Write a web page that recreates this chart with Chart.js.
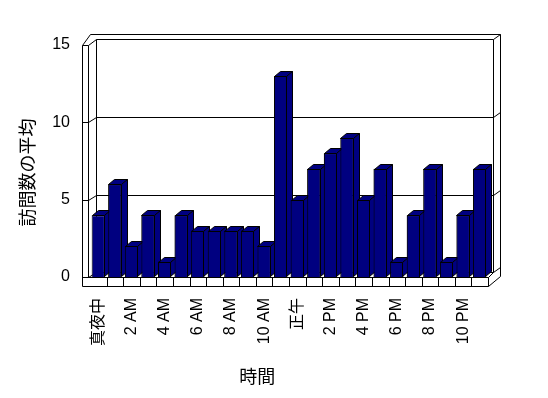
<!DOCTYPE html>
<html>
<head>
<meta charset="utf-8">
<script src="https://cdn.jsdelivr.net/npm/chart.js@4/dist/chart.umd.min.js"></script>
<style>
html,body{margin:0;padding:0;background:#fff;}
canvas{display:block;}
</style>
</head>
<body>
<canvas id="c" width="548" height="398"></canvas>
<script>
const categories = ['真夜中','1 AM','2 AM','3 AM','4 AM','5 AM','6 AM','7 AM','8 AM','9 AM','10 AM','11 AM',
  '正午','1 PM','2 PM','3 PM','4 PM','5 PM','6 PM','7 PM','8 PM','9 PM','10 PM','11 PM'];
const visits = [4,6,2,4,1,4,3,3,3,3,2,13,5,7,8,9,5,7,1,4,7,1,4,7];
const yTicks = [0,5,10,15];
const xTitle = '時間';
const yTitle = '訪問数の平均';

const FAMILY = '"Liberation Sans", Arial, "Noto Sans CJK JP", sans-serif';
const NAVY = '#000080';

function line(ctx, x1, y1, x2, y2) {
  ctx.beginPath();
  ctx.moveTo(x1, y1);
  ctx.lineTo(x2, y2);
  ctx.stroke();
}

const walls = {
  id: 'walls',
  beforeDatasetsDraw(chart) {
    const ctx = chart.ctx;
    const xs = chart.scales.x, ys = chart.scales.y;
    const L = Math.round(xs.left), R = Math.round(xs.right);
    const T = Math.round(ys.getPixelForValue(15)), B = Math.round(ys.getPixelForValue(0));
    ctx.save();
    ctx.translate(0.5, 0.5);
    ctx.strokeStyle = '#000';
    ctx.lineWidth = 1;
    // left wall
    line(ctx, L-8, T, L-8, B+9);
    line(ctx, L-2, T, L-2, B);
    line(ctx, L-8, T, L-2, T);
    line(ctx, L-8, T, L, T-11);
    line(ctx, L-2, T, L+6, T-6);
    line(ctx, L+6, T-6, L+6, B-5);
    // back wall
    line(ctx, L, T-11, R+12, T-11);
    line(ctx, L+6, T-6, R+5, T-6);
    line(ctx, R+12, T-11, R+12, B-1);
    line(ctx, R+5, T-6, R+5, B-5);
    line(ctx, R+5, T-6, R+12, T-11);
    // gridlines
    yTicks.forEach(v => {
      if (v === 15) return;
      const y = Math.round(ys.getPixelForValue(v));
      line(ctx, L-8, y, L-2, y);
      line(ctx, L-2, y, L+6, y-5);
      line(ctx, L+6, y-5, R+5, y-5);
      line(ctx, R+5, y-5, R+12, y-10);
    });
    // floor
    line(ctx, L-8, B, R, B);
    line(ctx, L-8, B+9, R, B+9);
    line(ctx, R, B, R, B+9);
    for (let i = 1; i < categories.length; i++) {
      const x = Math.round((xs.getPixelForValue(i-1) + xs.getPixelForValue(i)) / 2);
      line(ctx, x, B, x, B+9);
    }
    line(ctx, R, B+9, R+12, B-1);
    line(ctx, R, B, R+5, B-5);
    ctx.restore();
  },
  afterDatasetsDraw(chart) {
    const ctx = chart.ctx;
    const meta = chart.getDatasetMeta(0);
    const dx = 6, dy = -5;
    ctx.save();
    ctx.strokeStyle = '#000';
    ctx.lineWidth = 1;
    ctx.fillStyle = NAVY;
    meta.data.forEach((bar, i) => {
      const p = bar.getProps(['x','y','base','width'], true);
      const l = Math.round(p.x - p.width/2) + 0.5;
      const r = Math.round(p.x + p.width/2) - 0.5;
      const t = Math.round(p.y) + 0.5;
      const b = Math.round(p.base) - 0.5;
      // top face
      ctx.beginPath();
      ctx.moveTo(l, t); ctx.lineTo(l+dx, t+dy); ctx.lineTo(r+dx, t+dy); ctx.lineTo(r, t); ctx.closePath();
      ctx.fill(); ctx.stroke();
      // side face
      ctx.beginPath();
      ctx.moveTo(r, t); ctx.lineTo(r+dx, t+dy); ctx.lineTo(r+dx, b+dy); ctx.lineTo(r, b); ctx.closePath();
      ctx.fill(); ctx.stroke();
      if (i + 1 < meta.data.length) meta.data[i+1].draw(ctx);
    });
    ctx.restore();
  },
  afterDraw(chart) {
    const ctx = chart.ctx;
    const xs = chart.scales.x, ys = chart.scales.y;
    ctx.save();
    ctx.fillStyle = '#000';
    ctx.font = '18px "Noto Sans CJK JP", sans-serif';
    ctx.textAlign = 'center';
    ctx.textBaseline = 'middle';
    ctx.fillText(xTitle, xs.left + (xs.right - xs.left) * 0.42, 376);
    ctx.translate(27.5, ys.top + (ys.bottom - ys.top) * 0.55);
    ctx.rotate(-Math.PI/2);
    ctx.fillText(yTitle, 0, 0);
    ctx.restore();
  }
};

new Chart(document.getElementById('c'), {
  type: 'bar',
  data: {
    labels: categories,
    datasets: [{
      data: visits,
      backgroundColor: NAVY,
      borderColor: '#000',
      borderWidth: 1,
      barPercentage: 0.8,
      categoryPercentage: 1.0
    }]
  },
  options: {
    responsive: false,
    animation: false,
    layout: { padding: { top: 45, right: 60, left: 0, bottom: 0 } },
    plugins: { legend: { display: false }, tooltip: { enabled: false } },
    scales: {
      x: {
        grid: { display: false, drawTicks: false },
        border: { display: false },
        ticks: {
          autoSkip: false, maxRotation: 90, minRotation: 90, padding: 21,
          color: '#000', font: { size: 16, family: FAMILY },
          callback: (v, i) => (i % 2 === 0 ? categories[i] : '')
        },
        afterFit(s) { s.height = 121; }
      },
      y: {
        min: 0, max: 15,
        grid: { display: false, drawTicks: false },
        border: { display: false },
        ticks: {
          stepSize: 5, padding: 20, color: '#000',
          font: { size: 16, family: FAMILY }
        },
        afterFit(s) { s.width = 90; }
      }
    }
  },
  plugins: [walls]
});
</script>
</body>
</html>
